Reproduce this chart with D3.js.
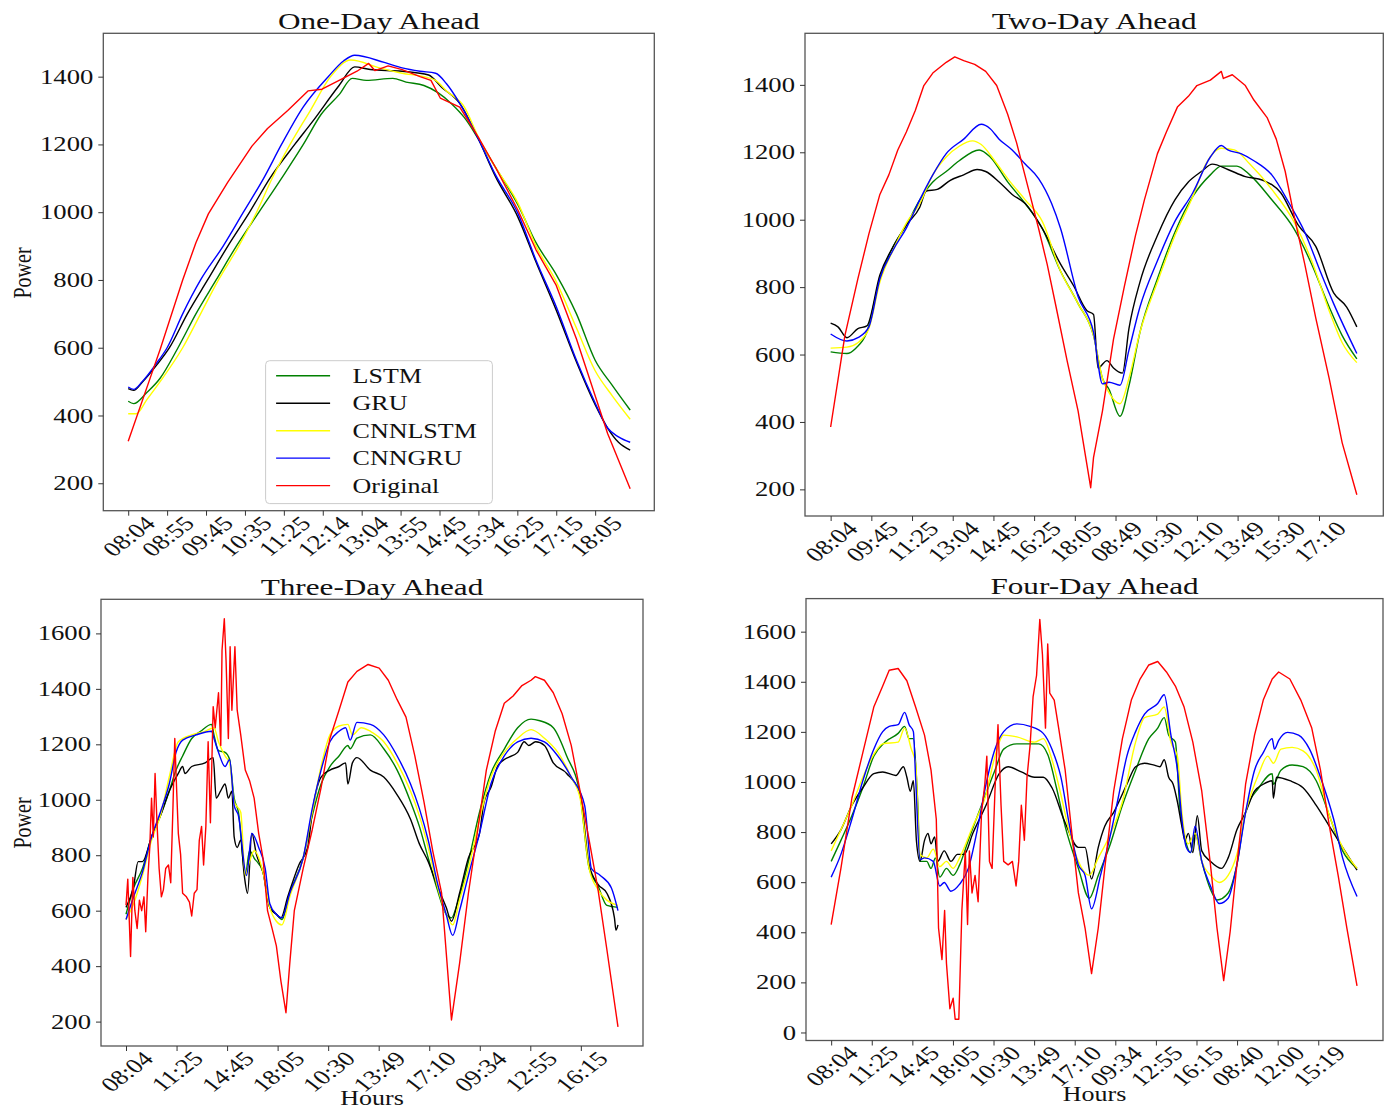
<!DOCTYPE html>
<html>
<head>
<meta charset="utf-8">
<script src="https://cdn.jsdelivr.net/npm/d3@7"></script>
<style>
  body { margin: 0; background: #fff; }
  text { font-family: "Liberation Serif", "Times New Roman", serif; fill: #111; }
</style>
</head>
<body>
<svg id="chart" width="1390" height="1110"></svg>
<script>
// legend order = draw order
var seriesNames = ["LSTM", "GRU", "CNNLSTM", "CNNGRU", "Original"];
var seriesColors = ["#008000", "#000000", "#ffff00", "#0000ff", "#ff0000"];

// x tick labels, one every tickSteps samples
var ticks1 = ["08:04", "08:55", "09:45", "10:35", "11:25", "12:14", "13:04", "13:55", "14:45", "15:34", "16:25", "17:15", "18:05"];
var ticks2 = ["08:04", "09:45", "11:25", "13:04", "14:45", "16:25", "18:05", "08:49", "10:30", "12:10", "13:49", "15:30", "17:10"];
var ticks3 = ["08:04", "11:25", "14:45", "18:05", "10:30", "13:49", "17:10", "09:34", "12:55", "16:15"];
var ticks4 = ["08:04", "11:25", "14:45", "18:05", "10:30", "13:49", "17:10", "09:34", "12:55", "16:15", "08:40", "12:00", "15:19"];
var tickSteps = [50, 100, 200, 200];

// [sample index, power]
// ---- one day ahead
var lstm1 = [[0,442],[7,435],[24,468],[41,510],[64,600],[87,700],[113,800],[139,900],[168,1000],[197,1100],[225,1200],[248,1289],[271,1347],[288,1395],[306,1389],[340,1395],[357,1384],[380,1374],[398,1353],[415,1321],[432,1279],[450,1216],[472,1132],[501,1021],[524,910],[550,816],[576,700],[600,563],[622,489],[645,416]];
var gru1 = [[0,479],[7,474],[18,498],[36,547],[53,600],[76,700],[102,800],[128,900],[156,1000],[182,1100],[214,1200],[237,1268],[271,1374],[291,1429],[311,1421],[352,1416],[386,1405],[403,1368],[426,1321],[450,1216],[472,1105],[501,984],[524,853],[550,711],[576,558],[600,432],[616,363],[630,321],[645,298]];
var cnnlstm1 = [[0,405],[10,405],[24,447],[41,500],[70,600],[93,700],[116,800],[142,900],[165,1000],[185,1100],[208,1200],[234,1300],[260,1400],[286,1449],[323,1426],[352,1410],[380,1400],[395,1389],[409,1358],[432,1310],[450,1221],[472,1132],[501,1026],[524,900],[550,795],[576,658],[600,532],[622,458],[645,389]];
var cnngru1 = [[0,484],[7,477],[18,500],[36,553],[50,600],[70,700],[93,800],[122,900],[148,1000],[174,1100],[197,1200],[225,1311],[257,1400],[277,1447],[291,1463],[329,1442],[352,1426],[375,1416],[395,1410],[409,1379],[426,1321],[450,1216],[472,1110],[501,995],[524,858],[550,721],[576,563],[600,437],[616,363],[630,337],[645,321]];
var orig1 = [[0,324],[33,542],[41,595],[70,800],[87,910],[103,995],[128,1089],[159,1195],[179,1247],[205,1300],[231,1358],[249,1363],[271,1389],[294,1416],[309,1439],[317,1418],[334,1432],[352,1421],[375,1400],[389,1389],[401,1337],[426,1310],[450,1221],[472,1132],[501,1005],[524,889],[550,784],[576,626],[600,458],[616,347],[645,184]];

// ---- two day ahead
var lstm2 = [[0,608],[40,603],[62,619],[89,666],[121,825],[154,921],[186,984],[219,1059],[251,1112],[284,1143],[316,1175],[365,1207],[392,1186],[435,1112],[478,1048],[520,974],[565,847],[608,751],[646,656],[668,529],[684,497],[711,417],[733,507],[760,666],[803,825],[846,963],[890,1069],[933,1133],[960,1159],[998,1159],[1030,1133],[1084,1059],[1138,974],[1182,868],[1225,741],[1257,656],[1293,587]];
var gru2 = [[0,693],[18,682],[40,650],[67,677],[89,685],[121,836],[154,921],[186,984],[219,1037],[235,1085],[262,1090],[294,1117],[327,1133],[360,1149],[381,1143],[414,1112],[446,1075],[478,1048],[520,974],[565,868],[597,804],[630,730],[646,719],[657,560],[679,582],[695,560],[717,545],[733,677],[760,815],[803,953],[846,1059],[879,1112],[911,1143],[938,1165],[976,1149],[1019,1128],[1062,1117],[1106,1080],[1149,984],[1192,921],[1236,783],[1268,741],[1293,682]];
var cnnlstm2 = [[0,619],[40,622],[67,635],[94,677],[121,815],[154,911],[186,990],[219,1048],[251,1133],[284,1186],[316,1218],[349,1234],[370,1223],[403,1175],[435,1122],[478,1059],[520,995],[565,847],[608,751],[646,656],[668,529],[684,487],[711,454],[733,529],[760,666],[803,815],[846,953],[890,1069],[922,1165],[960,1212],[992,1207],[1030,1165],[1084,1090],[1138,995],[1182,878],[1225,730],[1257,635],[1293,576]];
var cnngru2 = [[0,661],[40,640],[67,650],[94,682],[121,825],[154,911],[186,975],[219,1059],[251,1133],[284,1196],[327,1239],[370,1283],[392,1270],[414,1239],[446,1207],[478,1165],[511,1122],[543,1048],[565,974],[608,772],[646,666],[668,513],[684,518],[711,509],[733,613],[760,741],[803,878],[846,995],[890,1080],[933,1186],[960,1220],[976,1207],[1008,1196],[1040,1175],[1084,1133],[1127,1048],[1165,963],[1203,847],[1236,751],[1293,603]];
var orig2 = [[0,385],[35,656],[67,825],[94,958],[121,1075],[143,1133],[165,1207],[186,1260],[208,1324],[229,1398],[251,1435],[284,1467],[305,1483],[327,1472],[354,1461],[381,1440],[408,1398],[435,1313],[457,1228],[484,1101],[511,974],[532,868],[554,741],[581,582],[608,433],[639,205],[646,295],[668,433],[695,645],[722,804],[749,953],[771,1059],[803,1196],[825,1260],[852,1334],[879,1366],[900,1398],[933,1414],[960,1440],[965,1419],[987,1430],[1019,1398],[1040,1355],[1073,1302],[1095,1239],[1117,1143],[1138,1016],[1165,868],[1192,709],[1225,529],[1257,338],[1293,184]];

// ---- three day ahead
var lstm3 = [[0,587],[30,682],[65,752],[101,866],[136,942],[171,1031],[198,1107],[224,1158],[260,1221],[295,1247],[339,1272],[348,1234],[366,1177],[392,1171],[410,1145],[428,1006],[445,955],[472,727],[489,816],[507,790],[542,739],[569,612],[595,587],[617,568],[648,663],[701,790],[737,942],[772,1057],[807,1120],[843,1158],[878,1196],[887,1184],[914,1222],[967,1234],[1020,1184],[1073,1107],[1126,993],[1161,904],[1196,790],[1232,676],[1267,587],[1288,574],[1311,625],[1355,777],[1399,955],[1444,1095],[1497,1183],[1550,1260],[1603,1291],[1638,1285],[1691,1260],[1744,1158],[1797,1018],[1833,752],[1868,689],[1903,619],[1947,612]];
var gru3 = [[0,612],[30,688],[48,777],[65,777],[101,866],[136,942],[171,1031],[207,1095],[224,1120],[233,1095],[260,1120],[313,1133],[345,1152],[357,1006],[374,1031],[392,1057],[405,1006],[419,1031],[428,866],[440,828],[454,854],[468,727],[481,663],[498,879],[516,803],[542,739],[569,612],[595,587],[613,574],[640,650],[684,765],[719,828],[737,955],[772,1082],[807,1107],[843,1120],[869,1133],[878,1057],[896,1133],[914,1152],[967,1107],[1020,1082],[1073,1018],[1126,930],[1161,841],[1196,777],[1232,689],[1267,612],[1288,562],[1320,663],[1355,790],[1399,879],[1417,993],[1444,1044],[1470,1120],[1497,1145],[1550,1171],[1576,1209],[1594,1196],[1621,1209],[1656,1196],[1691,1133],[1744,1095],[1797,1018],[1833,765],[1868,695],[1903,663],[1933,574],[1939,530],[1947,549]];
var cnnlstm3 = [[0,568],[30,625],[65,727],[101,854],[136,942],[171,1082],[207,1209],[260,1234],[313,1247],[348,1260],[366,1209],[392,1158],[410,1133],[428,993],[454,955],[472,727],[489,777],[507,816],[542,739],[569,612],[595,562],[617,549],[648,650],[701,790],[737,955],[772,1120],[807,1234],[843,1266],[878,1272],[896,1234],[931,1260],[967,1247],[1020,1209],[1073,1133],[1126,1031],[1161,942],[1196,828],[1232,689],[1267,587],[1293,549],[1320,638],[1355,752],[1399,930],[1444,1082],[1497,1171],[1550,1222],[1603,1253],[1656,1222],[1709,1171],[1762,1082],[1797,1006],[1833,752],[1868,676],[1903,638],[1947,619]];
var cnngru3 = [[0,568],[30,650],[65,739],[101,866],[136,955],[171,1057],[198,1171],[224,1215],[277,1234],[339,1247],[348,1222],[366,1171],[392,1120],[410,1145],[428,980],[445,942],[477,727],[498,879],[525,828],[551,752],[569,625],[595,587],[617,574],[648,663],[701,790],[737,968],[772,1107],[807,1209],[843,1247],[869,1260],[887,1215],[914,1279],[967,1272],[1020,1234],[1073,1158],[1126,1057],[1161,968],[1196,854],[1232,701],[1267,587],[1293,511],[1320,600],[1355,727],[1399,879],[1444,1057],[1497,1158],[1550,1209],[1603,1222],[1656,1209],[1709,1158],[1762,1082],[1815,980],[1842,752],[1877,727],[1921,682],[1947,600]];
var orig3 = [[0,619],[7,714],[18,435],[27,720],[35,600],[44,536],[53,638],[62,600],[71,650],[78,524],[87,727],[94,828],[101,1006],[108,866],[115,1095],[122,930],[131,752],[140,650],[148,676],[157,752],[168,765],[177,701],[186,980],[193,1221],[200,1044],[207,879],[216,803],[224,663],[239,650],[251,631],[260,581],[270,663],[281,676],[290,854],[299,904],[307,765],[316,904],[325,1209],[334,917],[345,1336],[353,1260],[366,1386],[375,1196],[380,1539],[389,1653],[396,1501],[405,1221],[412,1552],[419,1323],[431,1552],[440,1323],[454,1234],[472,1107],[489,1069],[507,1006],[525,879],[542,790],[560,600],[578,536],[595,473],[613,346],[633,232],[648,409],[666,600],[701,752],[737,892],[772,1044],[807,1221],[843,1323],[878,1425],[914,1463],[958,1488],[1002,1475],[1038,1431],[1073,1361],[1108,1298],[1143,1158],[1179,993],[1214,815],[1249,663],[1288,206],[1320,409],[1355,663],[1390,879],[1426,1107],[1461,1247],[1497,1348],[1532,1374],[1567,1412],[1603,1431],[1620,1444],[1656,1431],[1691,1386],[1726,1310],[1762,1196],[1797,1031],[1833,854],[1868,676],[1903,460],[1947,181]];

// ---- four day ahead
var lstm4 = [[0,683],[48,767],[102,865],[156,977],[210,1103],[265,1159],[330,1194],[362,1222],[384,1173],[405,1173],[427,907],[438,683],[471,683],[492,655],[514,697],[535,620],[568,655],[601,627],[633,669],[676,767],[741,907],[807,1047],[850,1131],[915,1152],[1023,1152],[1067,1110],[1110,977],[1153,823],[1218,655],[1272,536],[1316,627],[1370,739],[1435,907],[1500,1047],[1565,1173],[1609,1215],[1641,1257],[1663,1187],[1696,1159],[1717,907],[1750,753],[1771,718],[1793,795],[1826,683],[1869,571],[1901,529],[1956,557],[1999,669],[2042,879],[2107,977],[2173,1033],[2179,991],[2216,1047],[2271,1068],[2325,1061],[2390,1005],[2455,865],[2520,725],[2591,655]];
var gru4 = [[0,753],[48,809],[102,907],[156,977],[210,1033],[254,1040],[319,1026],[356,1061],[373,1019],[390,963],[405,1005],[420,767],[438,683],[460,767],[477,795],[492,753],[510,781],[525,683],[557,725],[590,683],[622,711],[655,711],[698,795],[763,907],[828,1033],[872,1061],[937,1040],[1002,1019],[1045,1019],[1088,977],[1153,837],[1218,739],[1251,739],[1283,613],[1316,739],[1348,823],[1392,879],[1457,991],[1500,1061],[1544,1075],[1587,1068],[1620,1061],[1641,1089],[1663,1019],[1685,991],[1706,921],[1728,823],[1743,767],[1760,795],[1782,718],[1804,865],[1826,725],[1869,683],[1923,655],[1956,697],[1999,809],[2042,879],[2086,963],[2129,991],[2173,1005],[2179,935],[2194,1019],[2260,1005],[2325,977],[2390,907],[2455,823],[2520,739],[2591,648]];
var cnnlstm4 = [[0,725],[48,809],[102,907],[156,1019],[210,1110],[254,1152],[330,1159],[362,1215],[395,1131],[416,1075],[438,711],[471,697],[503,732],[535,662],[568,683],[601,655],[633,697],[698,823],[763,949],[807,1103],[850,1187],[915,1180],[1002,1159],[1045,1173],[1088,1089],[1132,949],[1175,795],[1218,683],[1272,627],[1316,697],[1370,781],[1435,921],[1500,1159],[1544,1257],[1609,1271],[1641,1299],[1674,1159],[1706,1103],[1728,879],[1760,753],[1793,795],[1826,683],[1869,627],[1912,599],[1956,627],[1999,711],[2042,879],[2107,1033],[2151,1103],[2179,1075],[2216,1131],[2271,1138],[2325,1124],[2390,1047],[2455,865],[2520,739],[2591,655]];
var cnngru4 = [[0,620],[48,711],[102,851],[156,1005],[210,1131],[254,1201],[286,1222],[330,1229],[362,1278],[384,1229],[405,1201],[416,1019],[438,690],[460,697],[503,683],[535,585],[557,599],[590,564],[633,592],[676,655],[720,809],[763,991],[807,1131],[850,1201],[915,1232],[980,1222],[1045,1194],[1088,1131],[1132,1019],[1175,823],[1218,669],[1251,627],[1283,494],[1327,627],[1370,767],[1414,935],[1457,1103],[1500,1201],[1544,1271],[1609,1313],[1641,1348],[1674,1187],[1706,1047],[1728,851],[1750,739],[1771,718],[1793,823],[1826,683],[1869,585],[1912,515],[1956,536],[1999,669],[2042,879],[2086,1047],[2129,1117],[2173,1173],[2184,1131],[2205,1166],[2249,1198],[2303,1187],[2357,1131],[2411,1019],[2476,851],[2520,697],[2591,543]];
var orig4 = [[0,431],[48,655],[102,935],[156,1117],[210,1299],[254,1383],[286,1446],[330,1453],[373,1404],[416,1299],[460,1187],[492,1047],[518,851],[529,417],[546,291],[559,487],[568,277],[585,95],[601,137],[611,53],[629,53],[644,487],[661,725],[672,431],[681,725],[694,557],[709,627],[724,522],[741,879],[757,991],[767,1103],[780,683],[793,655],[807,963],[822,1229],[837,907],[850,683],[872,669],[893,683],[911,585],[924,683],[937,907],[952,767],[965,1019],[980,1145],[995,1341],[1012,1425],[1028,1649],[1041,1509],[1056,1215],[1067,1551],[1077,1355],[1099,1327],[1121,1215],[1153,1047],[1186,795],[1218,557],[1251,417],[1283,235],[1316,417],[1348,655],[1392,963],[1435,1173],[1479,1327],[1522,1411],[1565,1467],[1609,1481],[1652,1439],[1696,1383],[1739,1299],[1782,1159],[1826,963],[1869,669],[1901,417],[1934,207],[1966,403],[1999,669],[2042,991],[2086,1187],[2129,1327],[2173,1411],[2205,1439],[2260,1411],[2314,1327],[2368,1215],[2411,1047],[2455,823],[2498,627],[2541,417],[2591,186]];

var SX = 1.3; // the reference picture is stretched sideways, text too

var svg = d3.select("#chart");

var panels = [
    { title: "One-Day Ahead", ticks: ticks1, step: tickSteps[0], series: [lstm1, gru1, cnnlstm1, cnngru1, orig1],
      left: 103.3, right: 654.3, top: 33.3, bottom: 510.7, xd: [-32, 676], yd: [119, 1528],
      ylabel: 273, xlabel: null, legend: true },
    { title: "Two-Day Ahead", ticks: ticks2, step: tickSteps[1], series: [lstm2, gru2, cnnlstm2, cnngru2, orig2],
      left: 805, right: 1383.3, top: 33.3, bottom: 516, xd: [-63, 1358], yd: [121, 1553],
      ylabel: null, xlabel: null, legend: false },
    { title: "Three-Day Ahead", ticks: ticks3, step: tickSteps[2], series: [lstm3, gru3, cnnlstm3, cnngru3, orig3],
      left: 101, right: 643, top: 599.3, bottom: 1046, xd: [-99, 2046], yd: [112, 1723],
      ylabel: 823, xlabel: 1105, legend: false },
    { title: "Four-Day Ahead", ticks: ticks4, step: tickSteps[3], series: [lstm4, gru4, cnnlstm4, cnngru4, orig4],
      left: 806, right: 1383, top: 598.6, bottom: 1040.5, xd: [-124, 2719], yd: [-32, 1732],
      ylabel: null, xlabel: 1101, legend: false }
];

panels.forEach(function (p) {
    var x = d3.scaleLinear().domain(p.xd).range([p.left, p.right]);
    var y = d3.scaleLinear().domain(p.yd).range([p.bottom, p.top]);
    var g = svg.append("g");

    // smooth model curves, the measured series keeps its sharp dips
    var smooth = d3.line()
        .curve(d3.curveMonotoneX)
        .x(function (d) { return x(d[0]); })
        .y(function (d) { return y(d[1]); });
    var sharp = d3.line()
        .x(function (d) { return x(d[0]); })
        .y(function (d) { return y(d[1]); });

    p.series.forEach(function (s, i) {
        g.append("path")
            .datum(s)
            .attr("fill", "none")
            .attr("stroke", seriesColors[i])
            .attr("stroke-width", 1.4)
            .attr("stroke-linejoin", "round")
            .attr("d", i === 4 ? sharp : smooth);
    });

    // frame
    g.append("rect")
        .attr("x", p.left).attr("y", p.top)
        .attr("width", p.right - p.left).attr("height", p.bottom - p.top)
        .attr("fill", "none").attr("stroke", "#555").attr("stroke-width", 1.3);

    // x axis
    var xAxis = d3.axisBottom(x)
        .tickValues(p.ticks.map(function (t, i) { return i * p.step; }))
        .tickFormat(function (d, i) { return p.ticks[i]; })
        .tickSize(5).tickSizeOuter(0);
    var ax = g.append("g")
        .attr("transform", "translate(0," + p.bottom + ")")
        .call(xAxis)
        .attr("font-size", 20.5).attr("font-family", null).attr("color", "#333");
    ax.select(".domain").remove();
    ax.selectAll("text")
        .attr("y", null).attr("dy", "0.35em").attr("text-anchor", "middle")
        .attr("transform", function () {
            var w = this.getComputedTextLength();
            return "translate(0," + (4 + (w + 14) / 2.83) + ") scale(" + SX + ",1) rotate(-45)";
        });

    // y axis
    var ay = g.append("g")
        .attr("transform", "translate(" + p.left + ",0)")
        .call(d3.axisLeft(y).ticks(8).tickFormat(d3.format("d")).tickSize(5).tickSizeOuter(0))
        .attr("font-size", 20.5).attr("font-family", null).attr("color", "#333");
    ay.select(".domain").remove();
    ay.selectAll("text")
        .attr("x", null).attr("dy", "0.32em")
        .attr("transform", "translate(-10,0) scale(" + SX + ",1)");

    // title
    g.append("text")
        .attr("text-anchor", "middle")
        .attr("font-size", 24)
        .attr("transform", "translate(" + (p.left + p.right) / 2 + "," + (p.top - 4.5) + ") scale(" + SX + ",1)")
        .text(p.title);

    if (p.ylabel) {
        g.append("text")
            .attr("text-anchor", "middle").attr("dy", "0.35em")
            .attr("font-size", 20)
            .attr("transform", "translate(22," + p.ylabel + ") scale(" + SX + ",1) rotate(-90)")
            .text("Power");
    }
    if (p.xlabel) {
        g.append("text")
            .attr("text-anchor", "middle")
            .attr("font-size", 20)
            .attr("transform", "translate(" + (p.left + p.right) / 2 + "," + p.xlabel + ") scale(" + SX + ",1)")
            .text("Hours");
    }

    // to show color->meaning
    if (p.legend) {
        var lg = g.append("g").attr("transform", "translate(265.6,360.7)");
        lg.append("rect")
            .attr("width", 226.8).attr("height", 142.9).attr("rx", 4)
            .attr("fill", "#fff").attr("fill-opacity", 0.8)
            .attr("stroke", "#ccc");
        var tags = lg.selectAll("g.tag")
            .data(seriesNames)
            .enter().append("g")
            .attr("class", "tag")
            .attr("transform", function (d, i) { return "translate(0," + (15.1 + i * 27.45) + ")"; });
        tags.append("line")
            .attr("x1", 10.5).attr("x2", 64.5)
            .attr("stroke", function (d, i) { return seriesColors[i]; })
            .attr("stroke-width", 1.4);
        tags.append("text")
            .attr("dy", "0.35em").attr("font-size", 20)
            .attr("transform", "translate(87,0) scale(" + SX + ",1)")
            .text(function (d) { return d; });
    }
});
</script>
</body>
</html>
